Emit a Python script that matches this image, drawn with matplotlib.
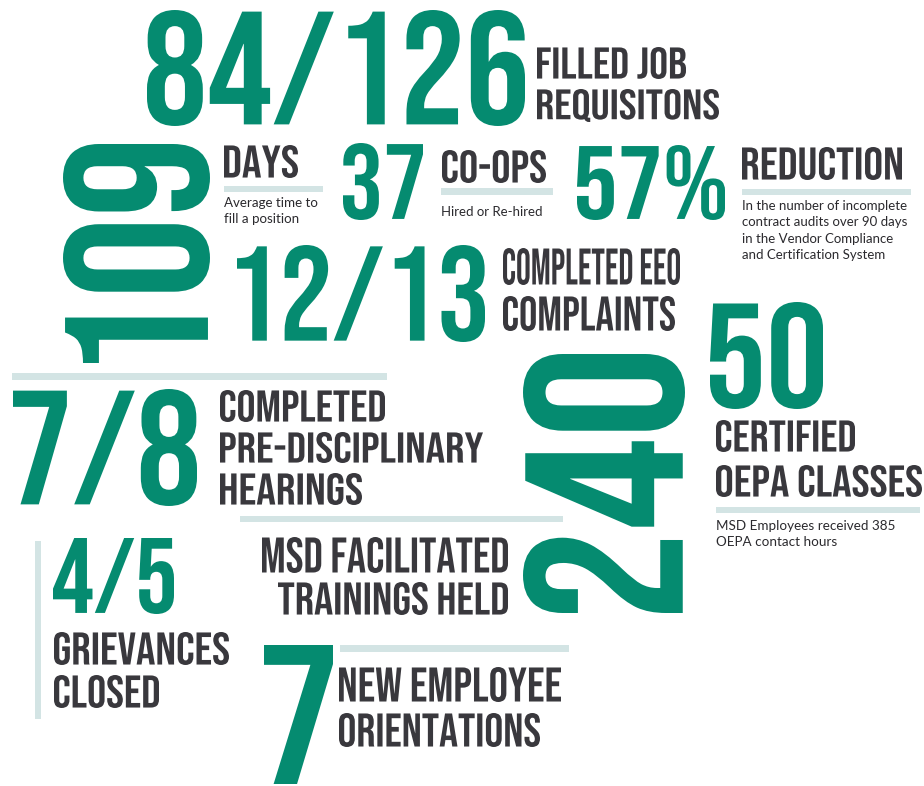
import matplotlib
matplotlib.use("Agg")
import matplotlib.pyplot as plt
from matplotlib.font_manager import FontProperties
from matplotlib.textpath import TextPath
from matplotlib.patheffects import AbstractPathEffect
from matplotlib.transforms import Affine2D

# figures and their labels
figures = ["84/126", "109", "37", "57%", "12/13", "50", "7/8", "240", "4/5", "7"]
heads = ["FILLED JOB", "REQUISITONS", "DAYS", "CO-OPS", "REDUCTION",
         "COMPLETED EEO", "COMPLAINTS", "CERTIFIED", "OEPA CLASSES",
         "COMPLETED", "PRE-DISCIPLINARY", "HEARINGS", "MSD FACILITATED",
         "TRAININGS HELD", "GRIEVANCES", "CLOSED", "NEW EMPLOYEE", "ORIENTATIONS"]
notes = ["Average time to\nfill a position", "Hired or Re-hired",
         "In the number of incomplete\ncontract audits over 90 days\nin the Vendor Compliance\nand Certification System",
         "MSD Employees received 385\nOEPA contact hours"]

# ink boxes in pixels: x0, x1, top, bottom (rotated ones: left, right, top, bottom)
fig_box = [(147, 525, 10, 126), (63, 210, 144, 363), (343, 423, 143, 220),
           (577, 725, 145, 220), (237, 485, 245, 342), (710, 823, 302, 409),
           (13, 197, 389, 506), (523, 685, 354, 613), (53, 174, 538, 614),
           (264, 333, 645, 784)]
fig_rot = [0, 90, 0, 0, 0, 0, 0, 90, 0, 0]
head_box = [(537, 686, 47, 79), (537, 719, 89, 122), (224, 298, 145, 178),
            (442, 546, 150, 183), (742, 902, 147, 180), (503, 680, 248, 285),
            (503, 675, 296, 331), (716, 855, 420, 452), (716, 922, 465, 497),
            (220, 385, 390, 422), (220, 483, 432, 463), (220, 362, 473, 505),
            (262, 508, 537, 573), (278, 508, 582, 615), (54, 229, 632, 665),
            (54, 159, 675, 708), (339, 561, 667, 702), (339, 540, 713, 747)]
# x, first baseline, first line width, line gap
note_pos = [(224, 207, 93, 16), (441, 216, 100, 16), (742, 210, 164, 16.3), (716, 530, 177, 15.5)]
bars = [(224, 323, 186, 192), (441, 553, 188, 195), (742, 911, 189, 195), (12, 387, 373, 380),
        (240, 563, 516, 522), (716, 920, 507, 513), (340, 569, 645, 652), (35, 41, 541, 719)]

GREEN = "#058b70"
DARK = "#39383d"
BAR = "#d3e4e4"
BIG = "Bebas Neue"
SMALL = "Lato"
DPI = 100


class Squeeze(AbstractPathEffect):
    # scale glyph outlines along the text direction
    def __init__(self, sx):
        super().__init__()
        self.sx = sx

    def draw_path(self, renderer, gc, tpath, affine, rgbFace=None):
        renderer.draw_path(gc, tpath, Affine2D().scale(self.sx, 1) + affine, rgbFace)


fig = plt.figure(figsize=(9.24, 7.86), dpi=DPI)
ax = fig.add_axes([0, 0, 1, 1])
ax.set_xlim(0, 924)
ax.set_ylim(786, 0)
ax.axis("off")


def extents(s, family):
    e = TextPath((0, 0), s, size=100, prop=FontProperties(family=family)).get_extents()
    return e.x0 / 100, e.x1 / 100, e.y0 / 100, e.y1 / 100


def big(s, box, color, rot=0):
    x0, x1, top, bottom = box
    ex0, ex1, ey0, ey1 = extents(s, BIG)
    if rot:
        length, cap = bottom - top, x1 - x0
    else:
        length, cap = x1 - x0, bottom - top
    fpx = cap / (ey1 - ey0)
    sx = length / ((ex1 - ex0) * fpx)
    fs = fpx * 72 / DPI
    if rot:
        ax.text(x1 + ey0 * fpx, bottom + sx * ex0 * fpx, s, rotation=90, rotation_mode="anchor",
                ha="left", va="baseline", fontsize=fs, family=BIG, color=color,
                path_effects=[Squeeze(sx)])
    else:
        ax.text(x0 - sx * ex0 * fpx, bottom + ey0 * fpx, s, ha="left", va="baseline",
                fontsize=fs, family=BIG, color=color, path_effects=[Squeeze(sx)])


def note(s, pos):
    x, base, w, gap = pos
    lines = s.split("\n")
    ex0, ex1, _, _ = extents(lines[0], SMALL)
    fs = w / (ex1 - ex0) * 72 / DPI
    for i, line in enumerate(lines):
        ax.text(x, base + i * gap, line, ha="left", va="baseline",
                fontsize=fs, family=SMALL, color="#2b2a2e")


for s, b, r in zip(figures, fig_box, fig_rot):
    big(s, b, GREEN, r)
for s, b in zip(heads, head_box):
    big(s, b, DARK)
for s, p in zip(notes, note_pos):
    note(s, p)
for x0, x1, y0, y1 in bars:
    ax.fill_between([x0, x1], y0, y1, color=BAR, lw=0)

fig.savefig("out.png", dpi=DPI)
